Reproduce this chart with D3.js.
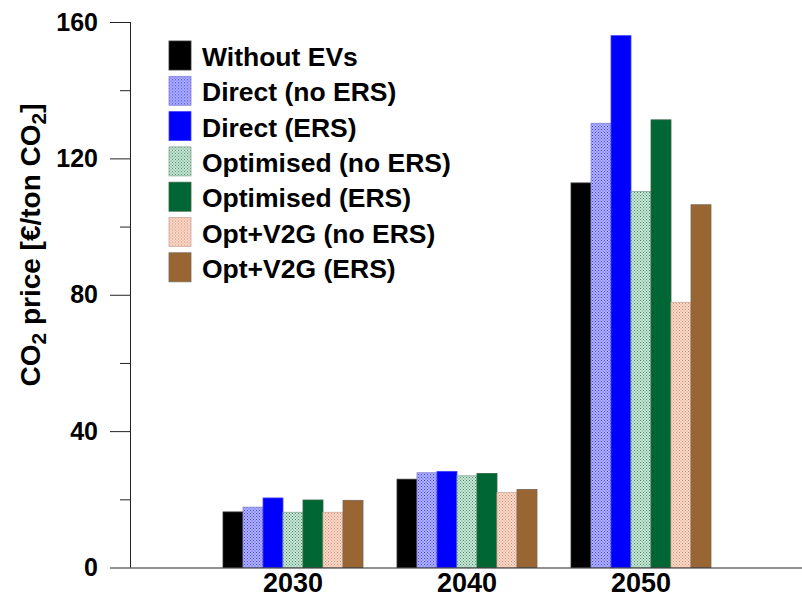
<!DOCTYPE html>
<html><head><meta charset="utf-8">
<script src="https://cdn.jsdelivr.net/npm/d3@7/dist/d3.min.js"></script>
<style>body{margin:0;background:#fff}svg{display:block;font-family:"Liberation Sans",Arial,sans-serif;font-weight:bold}</style>
</head><body><svg id="c" width="802" height="598"></svg>
<script>
const years = ["2030","2040","2050"];
const seriesNames = ["Without EVs","Direct (no ERS)","Direct (ERS)","Optimised (no ERS)","Optimised (ERS)","Opt+V2G (no ERS)","Opt+V2G (ERS)"];
const withoutEVs   = [16.3, 25.9, 112.8];
const directNoERS  = [17.7, 27.8, 130.3];
const directERS    = [20.4, 28.2, 156.0];
const optNoERS     = [16.2, 26.9, 110.3];
const optERS       = [19.8, 27.6, 131.3];
const v2gNoERS     = [16.2, 22.0, 77.8];
const v2gERS       = [19.7, 22.9, 106.4];
const seriesValues = [withoutEVs, directNoERS, directERS, optNoERS, optERS, v2gNoERS, v2gERS];
const yMajorTicks = [0,40,80,120,160];
const yMinorTicks = [20,60,100,140];

const svg = d3.select("#c");
const defs = svg.append("defs");
function pat(id, bg, fg){
  const p = defs.append("pattern").attr("id",id).attr("patternUnits","userSpaceOnUse").attr("width",3).attr("height",3);
  p.append("rect").attr("width",3).attr("height",3).attr("fill",bg);
  p.append("rect").attr("x",0).attr("y",0).attr("width",1).attr("height",1).attr("fill",fg);
  p.append("rect").attr("x",1.5).attr("y",1.5).attr("width",1).attr("height",1).attr("fill",fg);
}
pat("pBlue","#b4b4ff","#3c3cff");
pat("pGreen","#cce6d8","#3f8f66");
pat("pPeach","#f9dccd","#d98a6c");
const fills = ["#000000","url(#pBlue)","#0000ff","url(#pGreen)","#006633","url(#pPeach)","#996633"];
const strokes = ["#333","#8888cc","#4444ff","#88aa99","#336644","#ccaa99","#776655"];

const x0 = d3.scaleBand().domain(years).range([206,728]).paddingInner(34/174).paddingOuter(17/174);
const x1 = d3.scaleBand().domain(d3.range(seriesNames.length)).range([0,x0.bandwidth()]);
const y = d3.scaleLinear().domain([0,160]).range([567.5,22]);

// bars
years.forEach((yr,i)=>{
  const g = svg.append("g").attr("transform",`translate(${x0(yr)},0)`);
  seriesValues.forEach((vals,s)=>{
    g.append("rect").attr("x",x1(s)).attr("width",x1.bandwidth())
      .attr("y",y(vals[i])).attr("height",y(0)-y(vals[i]))
      .attr("fill",fills[s]).attr("stroke",strokes[s]).attr("stroke-width",0.8);
  });
});

// y axis
const ax = svg.append("g").attr("transform","translate(130,0)");
ax.call(d3.axisLeft(y).tickValues(yMajorTicks).tickSize(20).tickPadding(12).tickFormat(d3.format("d")));
ax.append("g").call(d3.axisLeft(y).tickValues(yMinorTicks).tickSize(10).tickFormat(""));
ax.selectAll(".domain").remove();
ax.selectAll("line").attr("stroke","#222").attr("stroke-width",1);
ax.selectAll("text").attr("font-size",25).attr("font-weight","bold").attr("fill","#000").attr("font-family","Liberation Sans, Arial, sans-serif");
svg.append("line").attr("x1",130.5).attr("x2",130.5).attr("y1",y(160)).attr("y2",y(0)).attr("stroke","#222");
svg.append("line").attr("x1",130).attr("x2",802).attr("y1",y(0)+0.5).attr("y2",y(0)+0.5).attr("stroke","#222");

// x labels
const xa = svg.append("g").attr("transform",`translate(0,${y(0)})`)
  .call(d3.axisBottom(x0).tickSize(0).tickPadding(5));
xa.select(".domain").remove();
xa.selectAll("text").attr("font-size",27).attr("font-weight","bold").attr("fill","#000").attr("font-family","Liberation Sans, Arial, sans-serif");

// y title
const t = svg.append("text").attr("transform","translate(40,245) rotate(-90)")
  .attr("text-anchor","middle").attr("font-size",28).attr("fill","#000");
t.append("tspan").text("CO");
t.append("tspan").attr("dy",6).attr("font-size",21).text("2");
t.append("tspan").attr("dy",-6).text(" price [€/ton CO");
t.append("tspan").attr("dy",6).attr("font-size",21).text("2");
t.append("tspan").attr("dy",-6).text("]");

// legend
const lg = svg.append("g").attr("transform","translate(169,41)");
seriesNames.forEach((n,s)=>{
  const r = lg.append("g").attr("transform",`translate(0,${s*35.3})`);
  r.append("rect").attr("width",22).attr("height",29).attr("fill",fills[s]).attr("stroke",strokes[s]).attr("stroke-width",0.8);
  r.append("text").attr("x",33).attr("y",25).attr("font-size",26.5).attr("fill","#000").text(n);
});
</script></body></html>
